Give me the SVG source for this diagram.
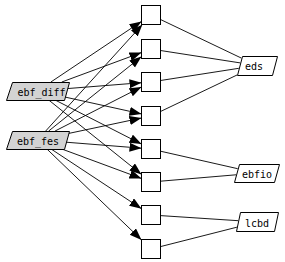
<svg xmlns="http://www.w3.org/2000/svg" width="285" height="262" viewBox="0 0 285 262">
<style>
.src{fill:#d3d3d3;stroke:#000;stroke-width:1}
.dst{fill:#fff;stroke:#000;stroke-width:1}
.box{fill:#fff;stroke:#000;stroke-width:1}
.lbl{font-family:"DejaVu Sans Mono","Liberation Mono",monospace;font-size:10px;fill:#000;text-anchor:middle}
.e{stroke:#000;stroke-width:0.9;fill:none}
.a{marker-end:url(#ah)}
</style>
<defs>
<marker id="ah" markerUnits="userSpaceOnUse" markerWidth="13" markerHeight="10" refX="12" refY="4.5" orient="auto" viewBox="0 0 13 10">
<path d="M0,0 L12,4.5 L0,9 z" fill="#000"/>
</marker>
</defs>
<rect width="285" height="262" fill="#fff"/>
<g id="edges">
<line class="e a" x1="50.9" y1="82" x2="141.5" y2="21.4"/>
<line class="e a" x1="61.8" y1="82" x2="141.5" y2="52.5"/>
<line class="e a" x1="67.1" y1="88.6" x2="141.5" y2="82.7"/>
<line class="e a" x1="64.8" y1="97" x2="141.5" y2="113.9"/>
<line class="e a" x1="55.1" y1="100" x2="141.5" y2="144.1"/>
<line class="e a" x1="48.7" y1="100" x2="141.5" y2="174.4"/>
<line class="e a" x1="45.7" y1="131" x2="142.4" y2="24.5"/>
<line class="e a" x1="48.7" y1="131" x2="141.5" y2="56.6"/>
<line class="e a" x1="55.1" y1="131" x2="141.5" y2="86.9"/>
<line class="e a" x1="68.3" y1="133.5" x2="141.5" y2="118"/>
<line class="e a" x1="65.9" y1="142.2" x2="141.5" y2="148.2"/>
<line class="e a" x1="61.8" y1="149" x2="141.5" y2="178.5"/>
<line class="e a" x1="51.1" y1="149" x2="141.5" y2="208.7"/>
<line class="e a" x1="46.9" y1="149" x2="141.5" y2="239.9"/>
<line class="e" x1="160.5" y1="19.5" x2="241.4" y2="58.1"/>
<line class="e" x1="160.5" y1="50.5" x2="240.2" y2="62.9"/>
<line class="e" x1="160.5" y1="80.5" x2="238.8" y2="68.3"/>
<line class="e" x1="160.5" y1="111.5" x2="237" y2="75"/>
<line class="e" x1="160.5" y1="151.2" x2="237.7" y2="168.7"/>
<line class="e" x1="160.5" y1="181.2" x2="236" y2="174.8"/>
<line class="e" x1="160.5" y1="215.6" x2="238.2" y2="220.7"/>
<line class="e" x1="160.5" y1="246.6" x2="236.9" y2="227.2"/>
</g>
<g id="ebf_diff">
<polygon class="src" points="12.5,82.5 69.5,82.5 64.5,100.5 6.5,100.5"/>
<text class="lbl" x="41.5" y="96">ebf_diff</text>
</g>
<g id="ebf_fes">
<polygon class="src" points="12.5,131.5 69.5,131.5 64.5,149.5 6.5,149.5"/>
<text class="lbl" x="38" y="145">ebf_fes</text>
</g>
<g id="n1"><rect class="box" x="141.5" y="5.5" width="19" height="19"/></g>
<g id="n2"><rect class="box" x="141.5" y="39.5" width="19" height="19"/></g>
<g id="n3"><rect class="box" x="141.5" y="72.5" width="19" height="19"/></g>
<g id="n4"><rect class="box" x="141.5" y="106.5" width="19" height="19"/></g>
<g id="n5"><rect class="box" x="141.5" y="139.5" width="19" height="19"/></g>
<g id="n6"><rect class="box" x="141.5" y="172.5" width="19" height="19"/></g>
<g id="n7"><rect class="box" x="141.5" y="205.5" width="19" height="19"/></g>
<g id="n8"><rect class="box" x="141.5" y="239.5" width="19" height="19"/></g>
<g id="eds">
<polygon class="dst" points="242.5,56.5 277.5,56.5 272.5,75.5 237.5,75.5"/>
<text class="lbl" x="254" y="70">eds</text>
</g>
<g id="ebfio">
<polygon class="dst" points="239.5,164.5 279.5,164.5 274.5,182.5 234.5,182.5"/>
<text class="lbl" x="257" y="178">ebfio</text>
</g>
<g id="lcbd">
<polygon class="dst" points="240.5,212.5 278.5,212.5 274.5,231.5 236.5,231.5"/>
<text class="lbl" x="257" y="227">lcbd</text>
</g>
</svg>
